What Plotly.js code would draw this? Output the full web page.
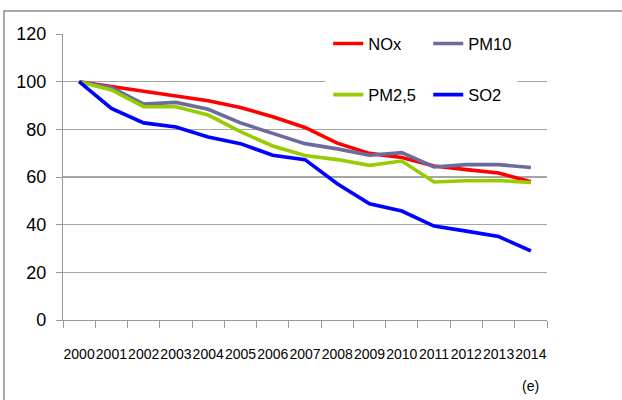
<!DOCTYPE html>
<html>
<head>
<meta charset="utf-8">
<script src="https://cdn.plot.ly/plotly-3.0.1.min.js"></script>
<style>
  html, body { margin: 0; padding: 0; background: #ffffff; }
  #chart { width: 622px; height: 400px; }
</style>
</head>
<body>
<div id="chart"></div>
<script>
const years = ['2000','2001','2002','2003','2004','2005','2006','2007','2008','2009','2010','2011','2012','2013','2014'];
const yearLabels = ['2000','2001','2002','2003','2004','2005','2006','2007','2008','2009','2010','2011','2012','2013','2014'];
const estimateNote = '(e)';
const nox  = [100, 97.9, 96.0, 94.0, 92.0, 89.2, 85.3, 80.8, 74.2, 69.9, 68.2, 64.6, 63.1, 61.7, 58.0];
const pm10 = [100, 97.6, 90.6, 91.3, 88.4, 82.7, 78.3, 74.0, 71.8, 69.1, 70.2, 64.2, 65.2, 65.2, 64.0];
const pm25 = [100, 96.5, 89.5, 89.5, 86.0, 79.0, 73.0, 69.0, 67.3, 64.9, 66.7, 57.9, 58.4, 58.5, 57.7];
const so2  = [100, 88.8, 82.7, 81.0, 76.8, 74.0, 69.1, 67.3, 57.2, 48.8, 45.7, 39.4, 37.3, 35.0, 29.0];
const yTicks = [0, 20, 40, 60, 80, 100, 120];

const FONT = '"Liberation Sans", Arial, sans-serif';

const traces = [
  {name: 'NOx',   y: nox,  color: '#ff0000', legend: 'legend'},
  {name: 'PM10',  y: pm10, color: '#6b6b9c', legend: 'legend'},
  {name: 'PM2,5', y: pm25, color: '#99cc00', legend: 'legend2'},
  {name: 'SO2',   y: so2,  color: '#0000ff', legend: 'legend2'}
];

const data = traces.map(t => ({
  type: 'scatter', mode: 'lines', x: years, y: t.y, name: t.name,
  legend: t.legend,
  line: {color: t.color, width: 3.6},
  hoverinfo: 'skip'
}));

const legendCommon = {
  orientation: 'h', xanchor: 'left', yanchor: 'middle',
  bgcolor: 'rgba(255,255,255,0)', borderwidth: 0,
  font: {family: FONT, size: 16.5, color: '#000000'},
  entrywidth: 55, entrywidthmode: 'pixels',
  itemclick: false, itemdoubleclick: false
};

const layout = {
  width: 622, height: 400,
  margin: {l: 63, r: 75, t: 34, b: 80},
  paper_bgcolor: '#ffffff', plot_bgcolor: '#ffffff',
  showlegend: true,
  legend: Object.assign({}, legendCommon, {x: 0.548, y: 0.966}),
  legend2: Object.assign({}, legendCommon, {x: 0.548, y: 0.787}),
  xaxis: {
    type: 'category', tickmode: 'array', tickvals: years, ticktext: yearLabels,
    tickangle: 0, tickson: 'boundaries', ticks: 'outside', ticklen: 7, tickwidth: 1,
    tickcolor: '#999999', showline: true, linecolor: '#999999', linewidth: 1.2,
    showgrid: false, zeroline: false,
    tickfont: {family: FONT, size: 14, color: '#000000'},
    ticklabelstandoff: 21,
    range: [-0.5, 14.5], fixedrange: true
  },
  yaxis: {
    range: [0, 120], tickmode: 'array', tickvals: yTicks,
    ticks: 'outside', ticklen: 6, tickwidth: 1, tickcolor: '#999999',
    showline: true, linecolor: '#999999', linewidth: 1.2,
    showgrid: true, gridcolor: '#a6a6a6', gridwidth: 1.2, zeroline: false,
    tickfont: {family: FONT, size: 18, color: '#000000'},
    ticklabelstandoff: 6, fixedrange: true
  },
  shapes: [
    {type: 'rect', xref: 'paper', yref: 'paper', x0: 0.5417, x1: 0.9386, y0: 0.734, y1: 1.01,
     fillcolor: '#ffffff', line: {width: 0}, layer: 'above'},
    {type: 'rect', xref: 'paper', yref: 'paper', x0: -0.122, x1: 1.3, y0: -0.5, y1: 1.0804,
     fillcolor: 'rgba(0,0,0,0)', line: {color: '#8c8c8c', width: 1.5}, layer: 'above'}
  ],
  annotations: [
    {text: estimateNote, x: years.length - 1, xref: 'x', y: -0.231, yref: 'paper',
     yanchor: 'middle', xanchor: 'center',
     showarrow: false, font: {family: FONT, size: 14, color: '#000000'}}
  ]
};

Plotly.newPlot('chart', data, layout, {displayModeBar: false, staticPlot: true});
</script>
</body>
</html>
